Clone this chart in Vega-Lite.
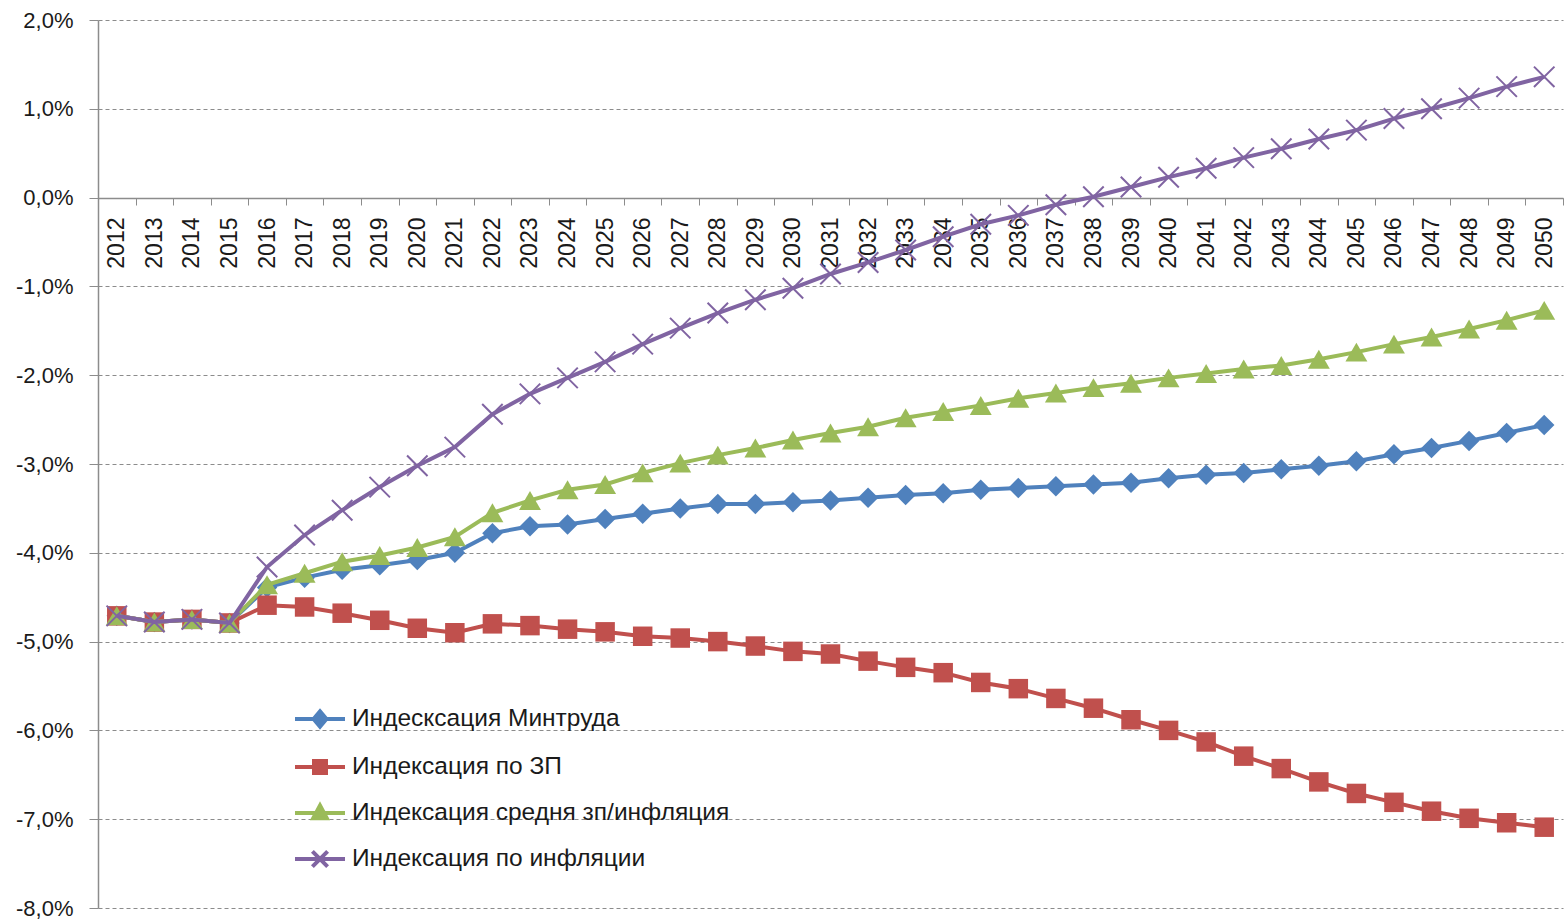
{
  "$schema": "https://vega.github.io/schema/vega-lite/v6.json",
  "width": 1465,
  "height": 888,
  "autosize": {"type": "none"},
  "padding": {"left": 98, "top": 20, "right": 2, "bottom": 14},
  "background": "white",
  "config": {"view": {"stroke": null}, "font": "Liberation Sans"},
  "data": {"values": [
    {"year":"2012","series":"Индесксация Минтруда","value":-4.71},{"year":"2013","series":"Индесксация Минтруда","value":-4.78},{"year":"2014","series":"Индесксация Минтруда","value":-4.75},{"year":"2015","series":"Индесксация Минтруда","value":-4.79},{"year":"2016","series":"Индесксация Минтруда","value":-4.39},{"year":"2017","series":"Индесксация Минтруда","value":-4.28},{"year":"2018","series":"Индесксация Минтруда","value":-4.19},{"year":"2019","series":"Индесксация Минтруда","value":-4.14},{"year":"2020","series":"Индесксация Минтруда","value":-4.08},{"year":"2021","series":"Индесксация Минтруда","value":-4.0},{"year":"2022","series":"Индесксация Минтруда","value":-3.78},{"year":"2023","series":"Индесксация Минтруда","value":-3.7},{"year":"2024","series":"Индесксация Минтруда","value":-3.68},{"year":"2025","series":"Индесксация Минтруда","value":-3.62},{"year":"2026","series":"Индесксация Минтруда","value":-3.56},{"year":"2027","series":"Индесксация Минтруда","value":-3.5},{"year":"2028","series":"Индесксация Минтруда","value":-3.45},{"year":"2029","series":"Индесксация Минтруда","value":-3.45},{"year":"2030","series":"Индесксация Минтруда","value":-3.43},{"year":"2031","series":"Индесксация Минтруда","value":-3.41},{"year":"2032","series":"Индесксация Минтруда","value":-3.38},{"year":"2033","series":"Индесксация Минтруда","value":-3.35},{"year":"2034","series":"Индесксация Минтруда","value":-3.33},{"year":"2035","series":"Индесксация Минтруда","value":-3.29},{"year":"2036","series":"Индесксация Минтруда","value":-3.27},{"year":"2037","series":"Индесксация Минтруда","value":-3.25},{"year":"2038","series":"Индесксация Минтруда","value":-3.23},{"year":"2039","series":"Индесксация Минтруда","value":-3.21},{"year":"2040","series":"Индесксация Минтруда","value":-3.16},{"year":"2041","series":"Индесксация Минтруда","value":-3.12},{"year":"2042","series":"Индесксация Минтруда","value":-3.1},{"year":"2043","series":"Индесксация Минтруда","value":-3.06},{"year":"2044","series":"Индесксация Минтруда","value":-3.02},{"year":"2045","series":"Индесксация Минтруда","value":-2.97},{"year":"2046","series":"Индесксация Минтруда","value":-2.89},{"year":"2047","series":"Индесксация Минтруда","value":-2.82},{"year":"2048","series":"Индесксация Минтруда","value":-2.74},{"year":"2049","series":"Индесксация Минтруда","value":-2.65},{"year":"2050","series":"Индесксация Минтруда","value":-2.56},
    {"year":"2012","series":"Индексация по ЗП","value":-4.71},{"year":"2013","series":"Индексация по ЗП","value":-4.78},{"year":"2014","series":"Индексация по ЗП","value":-4.75},{"year":"2015","series":"Индексация по ЗП","value":-4.79},{"year":"2016","series":"Индексация по ЗП","value":-4.59},{"year":"2017","series":"Индексация по ЗП","value":-4.61},{"year":"2018","series":"Индексация по ЗП","value":-4.68},{"year":"2019","series":"Индексация по ЗП","value":-4.76},{"year":"2020","series":"Индексация по ЗП","value":-4.85},{"year":"2021","series":"Индексация по ЗП","value":-4.9},{"year":"2022","series":"Индексация по ЗП","value":-4.8},{"year":"2023","series":"Индексация по ЗП","value":-4.82},{"year":"2024","series":"Индексация по ЗП","value":-4.86},{"year":"2025","series":"Индексация по ЗП","value":-4.89},{"year":"2026","series":"Индексация по ЗП","value":-4.94},{"year":"2027","series":"Индексация по ЗП","value":-4.96},{"year":"2028","series":"Индексация по ЗП","value":-5.0},{"year":"2029","series":"Индексация по ЗП","value":-5.05},{"year":"2030","series":"Индексация по ЗП","value":-5.11},{"year":"2031","series":"Индексация по ЗП","value":-5.14},{"year":"2032","series":"Индексация по ЗП","value":-5.22},{"year":"2033","series":"Индексация по ЗП","value":-5.29},{"year":"2034","series":"Индексация по ЗП","value":-5.35},{"year":"2035","series":"Индексация по ЗП","value":-5.46},{"year":"2036","series":"Индексация по ЗП","value":-5.53},{"year":"2037","series":"Индексация по ЗП","value":-5.64},{"year":"2038","series":"Индексация по ЗП","value":-5.75},{"year":"2039","series":"Индексация по ЗП","value":-5.88},{"year":"2040","series":"Индексация по ЗП","value":-6.0},{"year":"2041","series":"Индексация по ЗП","value":-6.13},{"year":"2042","series":"Индексация по ЗП","value":-6.29},{"year":"2043","series":"Индексация по ЗП","value":-6.43},{"year":"2044","series":"Индексация по ЗП","value":-6.58},{"year":"2045","series":"Индексация по ЗП","value":-6.71},{"year":"2046","series":"Индексация по ЗП","value":-6.81},{"year":"2047","series":"Индексация по ЗП","value":-6.91},{"year":"2048","series":"Индексация по ЗП","value":-6.99},{"year":"2049","series":"Индексация по ЗП","value":-7.04},{"year":"2050","series":"Индексация по ЗП","value":-7.09},
    {"year":"2012","series":"Индексация средня зп/инфляция","value":-4.71},{"year":"2013","series":"Индексация средня зп/инфляция","value":-4.78},{"year":"2014","series":"Индексация средня зп/инфляция","value":-4.75},{"year":"2015","series":"Индексация средня зп/инфляция","value":-4.79},{"year":"2016","series":"Индексация средня зп/инфляция","value":-4.36},{"year":"2017","series":"Индексация средня зп/инфляция","value":-4.23},{"year":"2018","series":"Индексация средня зп/инфляция","value":-4.1},{"year":"2019","series":"Индексация средня зп/инфляция","value":-4.03},{"year":"2020","series":"Индексация средня зп/инфляция","value":-3.94},{"year":"2021","series":"Индексация средня зп/инфляция","value":-3.82},{"year":"2022","series":"Индексация средня зп/инфляция","value":-3.55},{"year":"2023","series":"Индексация средня зп/инфляция","value":-3.41},{"year":"2024","series":"Индексация средня зп/инфляция","value":-3.29},{"year":"2025","series":"Индексация средня зп/инфляция","value":-3.23},{"year":"2026","series":"Индексация средня зп/инфляция","value":-3.1},{"year":"2027","series":"Индексация средня зп/инфляция","value":-2.99},{"year":"2028","series":"Индексация средня зп/инфляция","value":-2.9},{"year":"2029","series":"Индексация средня зп/инфляция","value":-2.82},{"year":"2030","series":"Индексация средня зп/инфляция","value":-2.73},{"year":"2031","series":"Индексация средня зп/инфляция","value":-2.65},{"year":"2032","series":"Индексация средня зп/инфляция","value":-2.58},{"year":"2033","series":"Индексация средня зп/инфляция","value":-2.48},{"year":"2034","series":"Индексация средня зп/инфляция","value":-2.41},{"year":"2035","series":"Индексация средня зп/инфляция","value":-2.34},{"year":"2036","series":"Индексация средня зп/инфляция","value":-2.26},{"year":"2037","series":"Индексация средня зп/инфляция","value":-2.2},{"year":"2038","series":"Индексация средня зп/инфляция","value":-2.14},{"year":"2039","series":"Индексация средня зп/инфляция","value":-2.09},{"year":"2040","series":"Индексация средня зп/инфляция","value":-2.03},{"year":"2041","series":"Индексация средня зп/инфляция","value":-1.98},{"year":"2042","series":"Индексация средня зп/инфляция","value":-1.93},{"year":"2043","series":"Индексация средня зп/инфляция","value":-1.89},{"year":"2044","series":"Индексация средня зп/инфляция","value":-1.82},{"year":"2045","series":"Индексация средня зп/инфляция","value":-1.74},{"year":"2046","series":"Индексация средня зп/инфляция","value":-1.65},{"year":"2047","series":"Индексация средня зп/инфляция","value":-1.57},{"year":"2048","series":"Индексация средня зп/инфляция","value":-1.48},{"year":"2049","series":"Индексация средня зп/инфляция","value":-1.38},{"year":"2050","series":"Индексация средня зп/инфляция","value":-1.27},
    {"year":"2012","series":"Индексация по инфляции","value":-4.71},{"year":"2013","series":"Индексация по инфляции","value":-4.78},{"year":"2014","series":"Индексация по инфляции","value":-4.75},{"year":"2015","series":"Индексация по инфляции","value":-4.79},{"year":"2016","series":"Индексация по инфляции","value":-4.16},{"year":"2017","series":"Индексация по инфляции","value":-3.8},{"year":"2018","series":"Индексация по инфляции","value":-3.52},{"year":"2019","series":"Индексация по инфляции","value":-3.26},{"year":"2020","series":"Индексация по инфляции","value":-3.02},{"year":"2021","series":"Индексация по инфляции","value":-2.81},{"year":"2022","series":"Индексация по инфляции","value":-2.44},{"year":"2023","series":"Индексация по инфляции","value":-2.21},{"year":"2024","series":"Индексация по инфляции","value":-2.03},{"year":"2025","series":"Индексация по инфляции","value":-1.85},{"year":"2026","series":"Индексация по инфляции","value":-1.65},{"year":"2027","series":"Индексация по инфляции","value":-1.47},{"year":"2028","series":"Индексация по инфляции","value":-1.3},{"year":"2029","series":"Индексация по инфляции","value":-1.15},{"year":"2030","series":"Индексация по инфляции","value":-1.02},{"year":"2031","series":"Индексация по инфляции","value":-0.86},{"year":"2032","series":"Индексация по инфляции","value":-0.73},{"year":"2033","series":"Индексация по инфляции","value":-0.59},{"year":"2034","series":"Индексация по инфляции","value":-0.44},{"year":"2035","series":"Индексация по инфляции","value":-0.3},{"year":"2036","series":"Индексация по инфляции","value":-0.2},{"year":"2037","series":"Индексация по инфляции","value":-0.08},{"year":"2038","series":"Индексация по инфляции","value":0.01},{"year":"2039","series":"Индексация по инфляции","value":0.12},{"year":"2040","series":"Индексация по инфляции","value":0.23},{"year":"2041","series":"Индексация по инфляции","value":0.33},{"year":"2042","series":"Индексация по инфляции","value":0.45},{"year":"2043","series":"Индексация по инфляции","value":0.55},{"year":"2044","series":"Индексация по инфляции","value":0.66},{"year":"2045","series":"Индексация по инфляции","value":0.76},{"year":"2046","series":"Индексация по инфляции","value":0.89},{"year":"2047","series":"Индексация по инфляции","value":1.0},{"year":"2048","series":"Индексация по инфляции","value":1.12},{"year":"2049","series":"Индексация по инфляции","value":1.25},{"year":"2050","series":"Индексация по инфляции","value":1.36}
  ]},
  "encoding": {
    "x": {
      "field": "year", "type": "ordinal",
      "scale": {"type": "band", "paddingInner": 0, "paddingOuter": 0},
      "axis": {
        "title": null, "offset": -710, "tickBand": "extent", "labelAngle": -90,
        "labelAlign": "right", "labelBaseline": "middle",
        "domainColor": "#8c8c8c", "domainWidth": 1.5, "tickColor": "#8c8c8c", "tickSize": 7,
        "labelPadding": 12, "labelFontSize": 23, "labelColor": "#1a1a1a", "grid": false
      }
    },
    "y": {
      "field": "value", "type": "quantitative",
      "scale": {"domain": [-8, 2], "nice": false, "zero": false},
      "axis": {
        "title": null, "values": [-8, -7, -6, -5, -4, -3, -2, -1, 0, 1, 2],
        "labelExpr": "(datum.value < 0 ? '-' : '') + replace(format(abs(datum.value), '.1f'), '.', ',') + '%'",
        "grid": true, "gridDash": [4, 3], "gridColor": "#8c8c8c", "gridWidth": 1,
        "domainColor": "#8c8c8c", "domainWidth": 1.5, "tickColor": "#8c8c8c", "tickSize": 9,
        "labelPadding": 16, "labelFontSize": 22, "labelColor": "#1a1a1a"
      }
    },
    "color": {
      "field": "series", "type": "nominal",
      "scale": {
        "domain": ["Индесксация Минтруда", "Индексация по ЗП", "Индексация средня зп/инфляция", "Индексация по инфляции"],
        "range": ["#4F81BD", "#C0504D", "#9BBB59", "#8064A2"]
      },
      "legend": {
        "orient": "none", "legendX": 200, "legendY": 677, "direction": "vertical",
        "title": null, "padding": 0, "symbolSize": 1600, "rowPadding": 10,
        "labelOffset": 10, "labelFontSize": 24.5, "labelColor": "#1a1a1a", "labelLimit": 0,
        "symbolStrokeWidth": 4,
        "encode": {
          "symbols": {
            "update": {
              "shape": {"signal": "datum.index === 0 ? 'M-1.25,0L1.25,0M0,-0.38L0.32,0L0,0.38L-0.32,0Z' : datum.index === 1 ? 'M-1.25,0L1.25,0M-0.3,-0.3L0.3,-0.3L0.3,0.3L-0.3,0.3Z' : datum.index === 2 ? 'M-1.25,0L1.25,0M0,-0.38L0.34,0.26L-0.34,0.26Z' : 'M-1.25,0L1.25,0M-0.38,-0.38L0.38,0.38M-0.38,0.38L0.38,-0.38'"},
              "fill": {"signal": "scale('color', datum.value)"},
              "stroke": {"signal": "scale('color', datum.value)"},
              "strokeWidth": {"value": 4},
              "opacity": {"value": 1},
              "fillOpacity": {"value": 1}
            }
          }
        }
      }
    }
  },
  "layer": [
    {"transform": [{"filter": "datum.series === 'Индесксация Минтруда'"}], "mark": {"type": "line", "strokeWidth": 4}},
    {"transform": [{"filter": "datum.series === 'Индесксация Минтруда'"}], "mark": {"type": "point", "shape": "diamond", "filled": true, "size": 420, "opacity": 1}},
    {"transform": [{"filter": "datum.series === 'Индексация по ЗП'"}], "mark": {"type": "line", "strokeWidth": 4}},
    {"transform": [{"filter": "datum.series === 'Индексация по ЗП'"}], "mark": {"type": "point", "shape": "square", "filled": true, "size": 380, "opacity": 1}},
    {"transform": [{"filter": "datum.series === 'Индексация средня зп/инфляция'"}], "mark": {"type": "line", "strokeWidth": 4}},
    {"transform": [{"filter": "datum.series === 'Индексация средня зп/инфляция'"}], "mark": {"type": "point", "shape": "triangle-up", "filled": true, "size": 480, "opacity": 1}},
    {"transform": [{"filter": "datum.series === 'Индексация по инфляции'"}], "mark": {"type": "line", "strokeWidth": 4}},
    {"transform": [{"filter": "datum.series === 'Индексация по инфляции'"}], "mark": {"type": "point", "shape": "M-1,-1L1,1M-1,1L1,-1", "filled": false, "strokeWidth": 2, "size": 420, "opacity": 1}}
  ]
}
